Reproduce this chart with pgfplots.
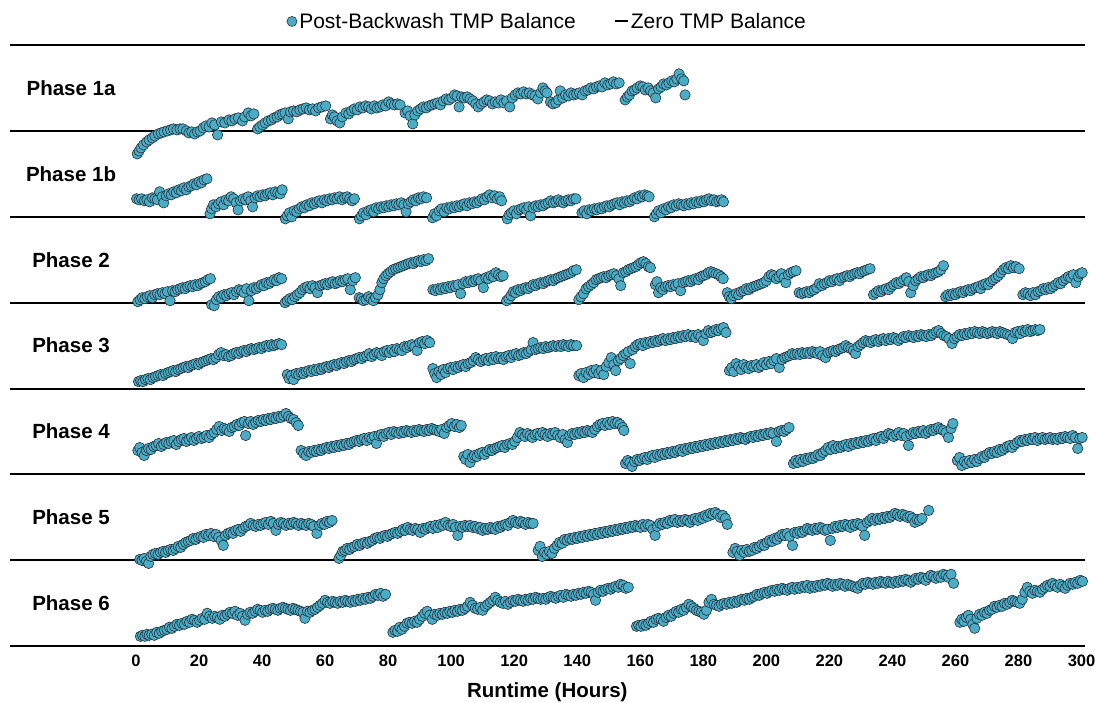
\documentclass[border=0pt]{standalone}
\usepackage{pgfplots}
\pgfplotsset{compat=1.18}
\usepackage{fontspec}
\setmainfont{Liberation Sans}

\definecolor{tmpblue}{RGB}{75,172,198}
\definecolor{tmpedge}{RGB}{35,50,60}

\pgfplotsset{
  panel/.style={scale only axis, width=1074.8pt, height=85.9pt,
    xmin=-40, xmax=301, ymin=0, ymax=85.9, clip=false, anchor=south west},
  pts/.style={only marks, mark=*, mark size=5.2pt, forget plot,
    mark options={fill=tmpblue, draw=tmpedge, line width=0.6pt}},
  zline/.style={black, line width=2pt, forget plot},
}
\newcommand{\phaselabel}[1]{\node[font=\bfseries\fontsize{20.5}{24}\selectfont] at (axis cs:-20.6,43) {#1};}

\begin{document}
\begin{tikzpicture}
\useasboundingbox (0,0) rectangle (1101pt,702pt);

% Phase 1a
\begin{axis}[panel, hide axis, at={(9.9pt,571.1pt)},
  legend columns=2,
  legend style={at={(0.5,1)}, anchor=south, yshift=11pt, draw=none, fill=none,
    font=\fontsize{21}{25}\selectfont,
    /tikz/every even column/.append style={column sep=36pt}}]
\addlegendimage{legend image code/.code={\draw[tmpedge, fill=tmpblue, line width=0.6pt] (5pt,0pt) circle (5pt);}}
\addlegendentry{Post-Backwash TMP Balance}
\addlegendimage{legend image code/.code={\draw[black, line width=2pt] (0pt,0pt) -- (13pt,0pt);}}
\addlegendentry{Zero TMP Balance}
\addplot[zline] coordinates {(-40,85.9) (301,85.9)};
\addplot[zline] coordinates {(-40,0) (301,0)};
\addplot[pts] coordinates {
(0.4,-23)(1,-20)(1.6,-17)(2.4,-14)(3.4,-11)(4.2,-9)(5.2,-7)(6,-5)(7.1,-3)(8,-2)(8.9,-1)(10,0)(11,1)(11.9,2)(13,1)(14,2)(14.9,2)(16,0)(16.8,-2)(17.7,-1)(18.6,-3)(19.5,-1)(20.4,0)(21.3,3)(22.2,5)(23.2,4)(24.1,8)(25,6)(25.9,-4)(27.1,9)(28.2,8)(29.5,11)(30.4,10)(31.4,12)(32.5,13)(33.8,10)(34.5,14)(35.6,18)(36.5,15)(37.4,17)
(38.6,2)(39.3,4)(40.2,6)(41,8)(42,10)(43,11)(43.8,13)(44.8,14)(45.6,16)(46.5,17)(47.3,18)(48.3,12)(49,19)(50,20)(51,19)(52,21)(53,22)(54,23)(55,21)(56,22)(57,20)(58,23)(59,24)(60.2,25)
(61.7,12)(62.3,16)(63,14)(63.8,10)(64.7,8)(65.5,14)(66.6,18)(67.5,17)(68.4,20)(69.3,22)(70.2,21)(71.1,24)(72,23)(72.9,25)(73.8,24)(74.7,22)(75.6,25)(76.5,23)(77.4,24)(78.3,26)(79.2,25)(80.2,29)(81,27)(82,26)(83,27)(83.8,26)
(85.4,18)(86.2,20)(87,15)(87.8,7)(88.5,16)(89.4,20)(90.3,22)(91.2,24)(92.1,23)(93,25)(93.9,26)(94.8,27)(95.7,28)(96.6,26)(97.5,30)(98.4,32)(99.3,31)(100.2,33)(101.1,36)(101.9,35)(102.5,24)(103.3,34)(104.2,33)(105.1,34)(106,32)(106.9,30)(107.8,27)(108.6,24)(109.5,27)(110.4,29)(111.3,31)(112.2,30)(113.1,27)(114,29)(114.9,28)(115.8,31)(116.7,28)(117.6,30)(118.6,24)(119.4,33)(120.3,36)(121.2,38)(122.1,37)(123,39)(123.9,37)(124.8,38)(125.7,36)(126.6,35)(127.5,32)(128.4,38)(129.1,43)(129.8,40)(130.4,38)
(131.5,29)(132.3,27)(133.2,28)(134,31)(134.6,40)(135.4,33)(136.3,36)(137.2,35)(138,38)(138.9,36)(139.8,37)(140.7,38)(141.6,36)(142.5,40)(143.4,41)(144.3,43)(145.2,42)(146.1,44)(147,45)(147.9,44)(148.8,48)(149.7,46)(150.6,47)(151.5,49)(152.4,47)(153.3,48)
(155.2,31)(155.9,34)(156.6,36)(157.4,40)(158.2,41)(159,43)(160,45)(160.8,44)(161.6,41)(162.5,43)(163.3,40)(164.1,38)(164.9,33)(165.8,42)(166.6,44)(167.4,47)(168.3,46)(169.1,48)(170,50)(170.8,49)(171.6,52)(172.3,57)(173.1,52)(173.8,50)(174.2,36)
};
\phaselabel{Phase 1a}
\end{axis}

% Phase 1b
\begin{axis}[panel, hide axis, at={(9.9pt,485.2pt)}]
\addplot[zline] coordinates {(-40,0) (301,0)};
\addplot[pts] coordinates {
(0.2,18)(1,17)(1.8,18)(2.7,16)(3.5,17)(4.3,15)(5.2,19)(6,18)(6.8,17)(7.5,25)(8.3,20)(8.8,14)(9.6,21)(10.4,23)(11.2,22)(12,25)(12.8,24)(13.6,27)(14.4,26)(15.2,29)(16,27)(16.8,30)(17.6,31)(18.4,33)(19.2,32)(20,35)(20.8,34)(21.6,37)(22.5,38)
(23.5,3)(24,8)(24.6,12)(25.4,10)(26.2,13)(27,15)(27.8,12)(28.6,17)(29.4,16)(30.2,20)(31,18)(31.8,14)(32.4,7)(33.2,16)(34,18)(34.8,17)(35.6,20)(36.4,16)(37,10)(37.8,19)(38.6,21)(39.4,20)(40.2,22)(41,21)(41.8,23)(42.6,24)(43.4,22)(44.2,25)(45,24)(45.8,23)(46.4,27)
(47.4,-2)(48,1)(48.7,4)(49.4,0)(50.2,6)(51,5)(51.8,8)(52.6,10)(53.4,9)(54.2,12)(55,11)(55.8,14)(56.6,13)(57.4,15)(58.2,16)(59,14)(59.8,17)(60.6,16)(61.4,18)(62.2,17)(63,19)(63.8,18)(64.6,20)(65.4,17)(66.2,19)(67,20)(67.8,18)(68.6,16)(69.3,18)
(70.9,-2)(71.5,1)(72.2,4)(73,2)(73.8,6)(74.6,7)(75.4,5)(76.2,9)(77,8)(77.8,10)(78.6,9)(79.4,11)(80.2,10)(81,12)(81.8,11)(82.6,13)(83.4,12)(84.2,14)(85,12)(85.7,5)(86.4,13)(87.2,15)(88,17)(88.8,16)(89.6,19)(90.4,18)(91.2,20)(92.2,19)
(94.1,-1)(94.7,3)(95.4,1)(96.2,6)(97,8)(97.8,5)(98.6,9)(99.4,8)(100.2,10)(101,9)(101.8,11)(102.6,10)(103.4,12)(104.2,13)(105,11)(105.8,14)(106.6,13)(107.4,15)(108.2,14)(109,16)(109.8,18)(110.6,17)(111.4,20)(112.2,22)(113,19)(113.8,21)(114.6,18)(115.4,20)(116,16)
(117.8,-2)(118.4,2)(119.1,4)(119.9,6)(120.7,3)(121.5,7)(122.3,8)(123.1,9)(123.9,7)(124.6,10)(125.2,1)(126,9)(126.8,11)(127.6,10)(128.4,12)(129.2,11)(130,13)(130.8,14)(131.6,16)(132.4,14)(133.2,15)(134,17)(134.8,15)(135.6,14)(136.4,16)(137.2,17)(138,16)(138.8,18)(139.6,18)
(141.5,4)(142.2,6)(143,3)(143.8,7)(144.6,6)(145.4,8)(146.2,7)(147,9)(147.8,8)(148.6,10)(149.4,11)(150.2,10)(151,12)(151.8,13)(152.6,14)(153.4,12)(154.2,15)(155,14)(155.8,16)(156.6,15)(157.4,17)(158.2,19)(159,18)(159.8,21)(160.6,20)(161.4,22)(162.2,21)(162.8,20)
(164.5,0)(165.1,3)(165.8,6)(166.6,4)(167.4,8)(168.2,7)(169,10)(169.8,9)(170.6,12)(171.4,11)(172.2,13)(173,12)(173.8,11)(174.6,13)(175.4,12)(176.2,14)(177,13)(177.8,15)(178.6,14)(179.4,16)(180.2,15)(181,17)(181.8,18)(182.6,16)(183.4,17)(184.2,15)(185,16)(185.8,17)(186.4,15)
};
\phaselabel{Phase 1b}
\end{axis}

% Phase 2
\begin{axis}[panel, hide axis, at={(9.9pt,399.3pt)}]
\addplot[zline] coordinates {(-40,0) (301,0)};
\addplot[pts] coordinates {
(0.6,1)(1.3,3)(2,5)(2.8,4)(3.6,6)(4.4,7)(5.2,5)(6,8)(6.8,9)(7.6,8)(8.4,10)(9.2,9)(10,11)(10.8,2)(11.6,12)(12.4,11)(13.2,13)(14,14)(14.8,15)(15.6,14)(16.4,16)(17.2,17)(18,16)(18.8,18)(19.6,17)(20.4,19)(21.2,20)(22,21)(22.8,23)(23.6,24)
(24,-2)(24.8,-3)(25.5,3)(26.3,6)(27.1,5)(27.9,8)(28.7,7)(29.5,9)(30.3,10)(31.1,8)(31.9,11)(32.7,13)(33.5,12)(34.3,10)(35.1,14)(35.8,2)(36.6,12)(37.4,15)(38.2,14)(39,16)(39.8,18)(40.6,17)(41.4,20)(42.2,19)(43,21)(43.8,23)(44.6,22)(45.4,25)(46.2,24)
(47.3,0)(48,2)(48.8,4)(49.6,3)(50.4,6)(51.2,8)(52,10)(52.8,13)(53.6,15)(54.4,16)(55.2,14)(56,17)(56.8,15)(57.6,10)(58.4,17)(59.2,18)(60,19)(60.8,18)(61.6,20)(62.4,21)(63.2,19)(64,20)(64.8,22)(65.6,21)(66.4,23)(67.2,24)(68,13)(68.8,22)(69.6,25)
(70.8,5)(71.5,4)(72.2,2)(73,3)(73.8,6)(74.5,4)(75.3,2)(76,5)(76.8,8)(77.4,13)(78,20)(78.6,24)(79.3,27)(80,29)(80.8,31)(81.6,33)(82.4,34)(83.2,35)(84,36)(84.8,37)(85.6,38)(86.4,39)(87.2,40)(88,39)(88.8,41)(89.6,42)(90.4,41)(91.2,43)(92,42)(92.8,44)
(94.2,13)(95,12)(95.8,14)(96.6,13)(97.4,15)(98.2,14)(99,16)(99.8,15)(100.6,17)(101.4,16)(102.2,18)(103,9)(103.8,19)(104.6,21)(105.4,20)(106.2,22)(107,21)(107.8,23)(108.6,24)(109.4,22)(110.2,15)(111,25)(111.8,24)(112.6,27)(113.4,26)(114.2,30)(115,28)(115.8,26)(116.5,27)
(117.6,2)(118.3,4)(119,7)(119.7,11)(120.4,10)(121.2,13)(122,12)(122.8,14)(123.6,15)(124.4,14)(125.2,16)(126,18)(126.8,17)(127.6,19)(128.4,20)(129.2,19)(130,21)(130.8,22)(131.6,23)(132.4,22)(133.2,24)(134,25)(134.8,26)(135.6,27)(136.4,28)(137.2,29)(138,30)(138.8,32)(139.7,33)
(140.5,3)(141.2,6)(142,9)(142.8,14)(143.6,16)(144.4,18)(145.2,20)(146,23)(146.8,24)(147.6,25)(148.4,26)(149.2,25)(150,27)(150.8,28)(151.6,29)(152.4,27)(153.2,24)(153.8,17)(154.6,30)(155.4,31)(156.2,33)(157,34)(157.8,35)(158.6,36)(159.4,38)(160.2,40)(161,41)(161.8,39)(162.6,36)(163.2,35)
(164.8,18)(165.3,21)(165.8,10)(166.5,15)(167.2,13)(168,16)(168.8,17)(169.6,16)(170.4,18)(171.2,17)(172,19)(172.8,12)(173.6,20)(174.4,21)(175.2,22)(176,21)(176.8,23)(177.6,24)(178.4,23)(179.2,26)(180,27)(180.8,28)(181.6,30)(182.4,31)(183.2,30)(184,29)(184.8,28)(185.6,26)(186.3,24)
(187.6,10)(188.2,6)(188.9,4)(189.6,7)(190.4,9)(191.2,8)(192,11)(192.8,12)(193.6,14)(194.4,13)(195.2,15)(196,16)(196.8,17)(197.6,18)(198.4,19)(199.2,20)(200,22)(200.8,26)(201.6,28)(202.4,27)(203.2,24)(204,26)(204.8,29)(205.6,25)(206.2,20)(207,28)(207.8,30)(208.6,31)(209.4,32)
(210.4,10)(211.2,9)(212,10)(212.8,11)(213.6,10)(214.4,12)(215.2,13)(216,15)(216.8,19)(217.6,17)(218.4,19)(219.2,20)(220,22)(220.8,21)(221.6,23)(222.4,24)(223.2,22)(224,25)(224.8,26)(225.6,27)(226.4,26)(227.2,28)(228,29)(228.8,30)(229.6,29)(230.4,31)(231.2,32)(232,33)(232.9,34)
(234,8)(234.8,10)(235.6,12)(236.4,11)(237.2,13)(238,14)(238.8,13)(239.6,16)(240.4,18)(241.2,20)(242,19)(242.8,21)(243.6,23)(244.4,25)(245.2,21)(245.8,10)(246.6,17)(247.4,22)(248.2,24)(249,26)(249.8,25)(250.6,27)(251.4,28)(252.2,27)(253,29)(253.8,30)(254.6,31)(255.4,33)(256.2,37)
(256.9,6)(257.6,8)(258.4,7)(259.2,9)(260,8)(260.8,10)(261.6,11)(262.4,10)(263.2,12)(264,13)(264.8,12)(265.6,14)(266.4,15)(267.2,16)(268,14)(268.8,18)(269.6,19)(270.4,18)(271.2,21)(272,23)(272.8,25)(273.6,27)(274.4,30)(275.2,33)(276,35)(276.8,34)(277.6,37)(278.4,35)(279.2,36)(280.2,34)
(281.4,8)(282.2,10)(283,9)(283.8,7)(284.6,10)(285.4,8)(286.2,11)(287,12)(287.8,14)(288.6,13)(289.4,15)(290.2,14)(291,16)(291.8,18)(292.6,20)(293.4,19)(294.2,22)(295,24)(295.8,26)(296.6,25)(297.4,28)(298.2,20)(299,26)(299.6,29)(300.2,30)
};
\phaselabel{Phase 2}
\end{axis}

% Phase 3
\begin{axis}[panel, hide axis, at={(9.9pt,313.4pt)}]
\addplot[zline] coordinates {(-40,0) (301,0)};
\addplot[pts] coordinates {
(0.8,7)(1.5,8)(2.2,7)(3,9)(3.8,10)(4.6,9)(5.4,11)(6.2,12)(7,13)(7.8,14)(8.6,13)(9.4,15)(10.2,16)(11,17)(11.8,18)(12.6,17)(13.4,19)(14.2,20)(15,21)(15.8,22)(16.6,21)(17.4,23)(18.2,24)(19,25)(19.8,24)(20.6,26)(21.4,27)(22.2,28)(23,29)(23.8,30)(24.6,29)(25.4,31)(26.2,34)(27,36)(27.8,33)(28.6,34)(29.4,32)(30.2,33)(31,35)(31.8,36)(32.6,35)(33.4,37)(34.2,38)(35,37)(35.8,39)(36.6,40)(37.4,39)(38.2,40)(39,41)(39.8,40)(40.6,42)(41.4,43)(42.2,42)(43,44)(43.8,43)(44.6,44)(45.4,45)(46.2,44)
(48,14)(48.6,10)(49.3,13)(50,9)(50.8,15)(51.6,14)(52.4,16)(53.2,15)(54,17)(54.8,18)(55.6,17)(56.4,19)(57.2,18)(58,20)(58.8,19)(59.6,21)(60.4,22)(61.2,21)(62,23)(62.8,24)(63.6,23)(64.4,25)(65.2,26)(66,25)(66.8,27)(67.6,28)(68.4,27)(69.2,29)(70,30)(70.8,31)(71.6,30)(72.4,32)(73.2,33)(74,35)(74.8,32)(75.6,34)(76.4,36)(77.2,35)(78,33)(78.8,37)(79.6,38)(80.4,36)(81.2,39)(82,37)(82.8,40)(83.6,39)(84.4,38)(85.2,42)(86,41)(86.8,43)(87.6,44)(88.4,42)(89.2,38)(90,46)(90.8,47)(91.6,45)(92.4,48)(93.2,46)
(94.2,20)(94.8,15)(95.4,11)(96.1,17)(96.8,14)(97.5,19)(98.2,16)(99,20)(99.8,21)(100.6,19)(101.4,22)(102.2,21)(103,23)(103.8,24)(104.6,22)(105.4,25)(106.2,26)(107,28)(107.8,31)(108.6,29)(109.4,27)(110.2,29)(111,30)(111.8,28)(112.6,31)(113.4,29)(114.2,32)(115,30)(115.8,31)(116.6,29)(117.4,32)(118.2,33)(119,31)(119.8,34)(120.6,35)(121.4,33)(122.2,34)(123,36)(123.8,35)(124.6,37)(125.4,39)(126,46)(126.8,39)(127.6,40)(128.4,41)(129.2,40)(130,42)(130.8,41)(131.6,42)(132.4,43)(133.2,42)(134,43)(134.8,42)(135.6,44)(136.4,43)(137.2,42)(138,44)(138.8,43)(139.8,43)
(140.5,13)(141.2,15)(142,11)(142.8,16)(143.6,14)(144.4,18)(145.2,16)(146,19)(146.8,15)(147.6,18)(148.4,14)(149.2,22)(150,26)(150.8,31)(151.6,24)(152.2,18)(153,28)(153.8,30)(154.6,33)(155.4,35)(156.2,37)(156.8,25)(157.6,39)(158.4,42)(159.2,44)(160,45)(160.8,43)(161.6,46)(162.4,45)(163.2,47)(164,46)(164.8,48)(165.6,47)(166.4,49)(167.2,50)(168,48)(168.8,50)(169.6,49)(170.4,51)(171.2,50)(172,52)(172.8,51)(173.6,53)(174.4,52)(175.2,54)(176,52)(176.8,53)(177.6,51)(178.4,54)(179.2,52)(180,48)(180.8,55)(181.6,58)(182.4,56)(183.2,57)(184,59)(184.8,58)(185.6,60)(186.4,61)(187.2,56)
(188.3,18)(189,21)(189.7,17)(190.4,25)(191.2,22)(192,19)(192.8,24)(193.6,21)(194.4,20)(195.2,23)(196,22)(196.8,24)(197.6,21)(198.4,23)(199.2,26)(200,24)(200.8,27)(201.6,25)(202.4,28)(203.2,30)(204.1,21)(205,29)(205.8,31)(206.6,32)(207.4,33)(208.2,35)(209,34)(209.8,35)(210.6,34)(211.4,36)(212.2,35)(213,36)(213.8,35)(214.6,37)(215.4,36)(216.2,35)(217,37)(217.8,33)(218.8,31)(219.6,36)(220.4,37)(221.2,38)(222,37)(222.8,39)(223.6,40)(224.4,41)(225.2,43)(226,41)(226.8,40)(227.6,38)(228.3,35)(229.1,42)(229.9,44)(230.7,46)(231.5,48)(232.3,47)(233.1,46)(233.9,48)(234.7,49)(235.5,47)(236.3,49)(237.1,50)(237.9,48)(238.7,50)(239.5,49)(240.3,51)(241.1,50)(241.9,48)(242.7,50)(243.5,52)(244.3,51)(245.1,53)(245.9,52)(246.7,51)(247.5,53)(248.3,52)(249.1,54)(249.9,53)(250.7,52)(251.5,54)(252.3,53)(253.1,55)(253.9,57)(254.7,58)(255.5,55)(256.3,53)(257.1,52)(257.9,50)(258.9,45)(259.7,50)(260.5,52)(261.3,54)(262.1,53)(262.9,55)(263.7,54)(264.5,56)(265.3,55)(266.1,57)(266.9,56)(267.7,55)(268.5,57)(269.3,56)(270.1,55)(270.9,56)(271.7,57)(272.5,56)(273.3,55)(274.1,57)(274.9,56)(275.7,55)(276.5,54)(277.3,53)(278.1,50)(278.9,56)(279.7,57)(280.5,55)(281.3,58)(282.1,57)(282.9,59)(283.7,57)(284.5,58)(285.3,59)(286.1,58)(286.8,59)
};
\phaselabel{Phase 3}
\end{axis}

% Phase 4
\begin{axis}[panel, hide axis, at={(9.9pt,227.5pt)}]
\addplot[zline] coordinates {(-40,0) (301,0)};
\addplot[pts] coordinates {
(0.6,24)(1.2,27)(1.9,22)(2.6,19)(3.3,24)(4,26)(4.8,25)(5.6,28)(6.4,29)(7.2,31)(8,28)(8.8,30)(9.6,32)(10.4,31)(11.2,33)(12,34)(12.8,30)(13.6,33)(14.4,35)(15.2,36)(16,33)(16.8,35)(17.6,37)(18.4,34)(19.2,36)(20,38)(20.8,36)(21.6,37)(22.4,39)(23.2,37)(24,40)(24.8,42)(25.6,45)(26.4,48)(27.2,44)(28,46)(28.8,45)(29.6,43)(30.4,47)(31.2,48)(32,50)(32.8,49)(33.6,52)(34.4,53)(34.8,39)(35.6,51)(36.4,53)(37.2,50)(38,52)(38.8,54)(39.6,53)(40.4,55)(41.2,54)(42,56)(42.8,55)(43.6,57)(44.4,56)(45.2,58)(46,57)(46.8,59)(47.6,61)(48.4,58)(49.2,56)(50,55)(50.8,52)(51.5,49)
(52.4,24)(53.2,21)(54,19)(54.8,23)(55.6,22)(56.4,24)(57.2,23)(58,25)(58.8,24)(59.6,26)(60.4,27)(61.2,26)(62,28)(62.8,27)(63.6,29)(64.4,28)(65.2,30)(66,29)(66.8,31)(67.6,30)(68.4,32)(69.2,33)(70,34)(70.8,33)(71.6,35)(72.4,36)(73.2,34)(74,37)(74.8,36)(75.6,38)(76.3,31)(77,39)(77.8,40)(78.6,38)(79.4,41)(80.2,42)(81,40)(81.8,43)(82.6,42)(83.4,41)(84.2,43)(85,42)(85.8,44)(86.6,43)(87.4,42)(88.2,44)(89,43)(89.8,45)(90.6,44)(91.4,43)(92.2,45)(93,44)(93.8,46)(94.6,45)(95.4,44)(96.2,43)(97,45)(97.8,41)(98.6,47)(99.4,49)(100.2,51)(101,48)(101.8,50)(102.6,47)(103.2,49)
(104,18)(104.6,15)(105.3,20)(106,12)(106.7,17)(107.4,19)(108.2,18)(109,21)(109.8,22)(110.6,20)(111.4,23)(112.2,25)(113,24)(113.8,26)(114.6,27)(115.4,28)(116.2,29)(117,27)(117.8,30)(118.6,31)(119.4,30)(120.2,33)(121,37)(121.8,42)(122.6,40)(123.4,38)(124.2,41)(125,39)(125.8,37)(126.6,40)(127.4,41)(128.2,39)(129,42)(129.8,40)(130.6,38)(131.4,41)(132.2,40)(133,42)(133.8,39)(134.6,37)(135.4,40)(136.2,35)(136.9,32)(137.6,39)(138.4,41)(139.2,40)(140,42)(140.8,41)(141.6,43)(142.4,42)(143.2,44)(144,43)(144.8,42)(145.6,45)(146.4,48)(147.2,50)(148,51)(148.8,49)(149.6,52)(150.4,50)(151.2,53)(152,51)(152.8,52)(153.6,50)(154.4,47)(154.8,44)
(155.3,11)(156,14)(156.7,12)(157.4,8)(158.2,13)(159,15)(159.8,14)(160.6,16)(161.4,17)(162.2,15)(163,18)(163.8,19)(164.6,17)(165.4,20)(166.2,19)(167,21)(167.8,20)(168.6,22)(169.4,21)(170.2,23)(171,22)(171.8,24)(172.6,25)(173.4,23)(174.2,26)(175,25)(175.8,27)(176.6,26)(177.4,28)(178.2,27)(179,29)(179.8,28)(180.6,30)(181.4,29)(182.2,31)(183,30)(183.8,32)(184.6,31)(185.4,33)(186.2,32)(187,34)(187.8,33)(188.6,35)(189.4,34)(190.2,36)(191,35)(191.8,37)(192.6,36)(193.4,35)(194.2,37)(195,38)(195.8,37)(196.6,39)(197.4,38)(198.2,40)(199,39)(199.8,41)(200.6,40)(201.4,42)(202.2,41)(203.2,33)(204,43)(204.8,44)(205.6,43)(206.4,45)(207.2,47)
(208.6,11)(209.3,14)(210,12)(210.8,15)(211.6,13)(212.4,16)(213.2,15)(214,17)(214.8,16)(215.6,18)(216.4,20)(217.2,19)(218,22)(218.8,24)(219.6,27)(220.4,25)(221.2,29)(222,26)(222.8,28)(223.6,27)(224.4,29)(225.2,30)(226,28)(226.8,31)(227.6,30)(228.4,32)(229.2,31)(230,33)(230.8,32)(231.6,34)(232.4,33)(233.2,35)(234,36)(234.8,34)(235.6,37)(236.4,38)(237.2,36)(238,39)(238.8,41)(239.6,40)(240.4,38)(241.2,40)(242,42)(242.8,39)(243.6,41)(244.4,38)(245.1,29)(245.8,40)(246.6,42)(247.4,41)(248.2,43)(249,42)(249.8,44)(250.6,41)(251.4,43)(252.2,45)(253,44)(253.8,46)(254.6,47)(255.4,45)(256.2,44)(257,42)(257.8,37)(258.6,46)(259.2,51)
(260.6,14)(261.3,17)(262,9)(262.8,13)(263.6,11)(264.4,14)(265.2,12)(266,15)(266.8,13)(267.6,16)(268.4,18)(269.2,17)(270,20)(270.8,22)(271.6,21)(272.4,23)(273.2,22)(274,25)(274.8,24)(275.6,26)(276.4,28)(277.2,29)(278,27)(278.8,30)(279.6,32)(280.4,34)(281.2,33)(282,35)(282.8,34)(283.6,36)(284.4,35)(285.2,37)(286,34)(286.8,36)(287.6,37)(288.4,35)(289.2,36)(290,37)(290.8,35)(291.6,36)(292.4,35)(293.2,37)(294,36)(294.8,38)(295.6,37)(296.4,36)(297.2,39)(298,37)(298.8,26)(299.4,36)(300.2,37)
};
\phaselabel{Phase 4}
\end{axis}

% Phase 5
\begin{axis}[panel, hide axis, at={(9.9pt,141.6pt)}]
\addplot[zline] coordinates {(-40,0) (301,0)};
\addplot[pts] coordinates {
(1.2,1)(1.9,0)(2.6,2)(3.3,-1)(4,-3)(4.7,4)(5.4,6)(6.2,7)(7,6)(7.8,8)(8.6,9)(9.4,8)(10.2,10)(11,11)(11.8,10)(12.6,12)(13.4,14)(14.2,13)(15,16)(15.8,18)(16.6,19)(17.4,20)(18.2,22)(19,21)(19.8,23)(20.6,24)(21.4,23)(22.2,26)(23,25)(23.8,27)(24.6,24)(25.4,26)(26.2,23)(27,20)(27.7,15)(28.4,25)(29.2,27)(30,28)(30.8,27)(31.6,30)(32.4,31)(33.2,29)(34,32)(34.8,34)(35.6,35)(36.4,37)(37.2,35)(38,34)(38.8,36)(39.6,35)(40.4,37)(41.2,38)(42,36)(42.8,39)(43.6,37)(44.4,30)(45.2,36)(46,38)(46.8,37)(47.6,35)(48.4,37)(49.2,36)(50,38)(50.8,37)(51.6,35)(52.4,37)(53.2,36)(54,35)(54.8,37)(55.6,36)(56.4,34)(57.4,27)(58.2,35)(59,37)(59.8,36)(60.6,39)(61.4,38)(62.2,40)
(64.4,2)(65,5)(65.6,9)(66.3,10)(67,12)(67.8,11)(68.6,13)(69.4,14)(70.2,16)(71,15)(71.8,17)(72.6,18)(73.4,17)(74.2,19)(75,20)(75.8,22)(76.6,23)(77.4,22)(78.2,24)(79,25)(79.8,24)(80.6,26)(81.4,27)(82.2,28)(83,27)(83.8,29)(84.6,31)(85.4,30)(86.2,33)(87,31)(87.8,30)(88.6,32)(89.4,31)(90.2,28)(91,32)(91.8,31)(92.6,33)(93.4,34)(94.2,32)(95,35)(95.8,33)(96.6,36)(97.4,35)(98.2,38)(99,35)(99.8,34)(100.6,36)(101.4,33)(102.1,25)(102.8,34)(103.6,33)(104.4,35)(105.2,34)(106,35)(106.8,33)(107.6,34)(108.4,32)(109.2,33)(110,30)(110.8,32)(111.6,31)(112.4,33)(113.2,32)(114,31)(114.8,34)(115.6,33)(116.4,35)(117.2,36)(118,35)(118.8,38)(119.6,40)(120.4,38)(121.2,37)(122,39)(122.8,38)(123.6,36)(124.4,38)(125.2,37)(126,37)
(127.6,10)(128.2,14)(128.9,4)(129.6,8)(130.4,6)(131.2,9)(132,7)(132.8,12)(133.6,15)(134.4,18)(135.2,17)(136,21)(136.8,20)(137.6,22)(138.4,21)(139.2,23)(140,22)(140.8,24)(141.6,23)(142.4,25)(143.2,24)(144,26)(144.8,25)(145.6,27)(146.4,26)(147.2,28)(148,27)(148.8,29)(149.6,28)(150.4,30)(151.2,29)(152,31)(152.8,30)(153.6,32)(154.4,31)(155.2,33)(156,32)(156.8,34)(157.6,33)(158.4,35)(159.2,34)(160,33)(160.8,36)(161.6,34)(162.4,36)(163.2,35)(164,31)(164.7,25)(165.4,34)(166.2,37)(167,36)(167.8,38)(168.6,37)(169.4,40)(170.2,39)(171,41)(171.8,38)(172.6,40)(173.4,39)(174.2,41)(175,40)(175.8,38)(176.6,41)(177.4,42)(178.2,40)(179,43)(179.8,42)(180.6,45)(181.4,44)(182.2,47)(183,46)(183.8,48)(184.6,46)(185.4,43)(186.2,45)(187,42)(187.6,36)
(189.4,8)(190.1,12)(190.8,9)(191.5,5)(192.2,10)(193,8)(193.8,11)(194.6,9)(195.4,10)(196.2,13)(197,12)(197.8,14)(198.6,16)(199.4,15)(200.2,18)(201,20)(201.8,19)(202.6,22)(203.4,21)(204.2,24)(205,26)(205.8,25)(206.6,27)(207.4,24)(208.3,15)(209,28)(209.8,27)(210.6,29)(211.4,28)(212.2,30)(213,32)(213.8,31)(214.6,30)(215.4,32)(216.2,31)(217,33)(217.8,32)(218.6,30)(219.4,31)(220.3,20)(221,32)(221.8,34)(222.6,33)(223.4,35)(224.2,34)(225,36)(225.8,35)(226.6,33)(227.4,36)(228.2,35)(229,37)(229.8,36)(230.6,34)(231.2,25)(232,38)(232.8,40)(233.6,42)(234.4,40)(235.2,42)(236,41)(236.8,43)(237.6,42)(238.4,44)(239.2,43)(240,45)(240.8,47)(241.6,46)(242.4,44)(243.2,46)(244,45)(244.8,43)(245.6,44)(246.4,42)(247.1,38)(247.8,41)(248.6,40)(249.4,42)(251.5,50)
};
\phaselabel{Phase 5}
\end{axis}

% Phase 6
\begin{axis}[panel, at={(9.9pt,55.7pt)},
  axis x line=bottom, axis y line=none, x axis line style={draw=none},
  xtick={0,20,...,300}, major tick length=0pt, ytick=\empty,
  /pgf/number format/assume math mode=true,
  xticklabel style={font=\bfseries\fontsize{16.5}{19}\selectfont, yshift=-5pt},
  xlabel={Runtime (Hours)},
  xlabel style={font=\bfseries\fontsize{20.5}{24}\selectfont, yshift=-9pt}]
\addplot[zline] coordinates {(-40,0) (301,0)};
\addplot[pts] coordinates {
(1.4,10)(2.1,11)(2.8,10)(3.5,12)(4.2,11)(5,12)(5.8,11)(6.6,14)(7.4,13)(8.2,15)(9,16)(9.8,17)(10.6,19)(11.4,18)(12.2,20)(13,22)(13.8,21)(14.6,23)(15.4,22)(16.2,25)(17,24)(17.8,27)(18.6,26)(19.4,24)(20.2,26)(21,28)(21.8,27)(22.6,33)(23.4,30)(24.2,28)(25,30)(25.8,29)(26.6,27)(27.4,31)(28.2,30)(29,32)(29.8,34)(30.6,33)(31.4,35)(32.2,31)(33,33)(33.8,30)(34.6,26)(35.4,32)(36.2,34)(37,33)(37.8,35)(38.6,37)(39.4,36)(40.2,34)(41,36)(41.8,35)(42.6,37)(43.4,38)(44.2,37)(45,36)(45.8,38)(46.6,39)(47.4,38)(48.2,37)(49,36)(49.8,38)(50.6,37)(51.4,36)(52.2,35)(53,34)(53.6,28)(54.4,35)(55.2,34)(56,36)(56.8,37)(57.6,39)(58.4,41)(59.2,43)(60,46)(60.8,44)(61.6,43)(62.4,45)(63.2,44)(64,43)(64.8,45)(65.6,44)(66.4,46)(67.2,45)(68,44)(68.8,46)(69.6,45)(70.4,47)(71.2,46)(72,48)(72.8,47)(73.6,49)(74.4,48)(75.2,50)(76,52)(76.8,51)(77.6,53)(78.4,50)(79.2,52)
(81.5,14)(82.2,16)(83,15)(83.7,19)(84.4,17)(85.2,20)(86,23)(86.8,24)(87.6,23)(88.4,25)(89.2,24)(90,27)(90.8,30)(91.6,33)(92.4,35)(93.2,31)(94,27)(94.8,32)(95.6,31)(96.4,33)(97.2,32)(98,34)(98.8,33)(99.6,35)(100.4,34)(101.2,36)(102,35)(102.8,37)(103.6,36)(104.4,38)(105.2,40)(106,44)(106.8,41)(107.6,38)(108.4,37)(109.2,39)(110,36)(110.8,40)(111.6,42)(112.4,44)(113.2,46)(114,49)(114.8,46)(115.6,44)(116.4,43)(117.2,45)(118,42)(118.8,44)(119.6,46)(120.4,45)(121.2,47)(122,46)(122.8,45)(123.6,47)(124.4,46)(125.2,48)(126,47)(126.8,49)(127.6,48)(128.4,47)(129.2,48)(130,47)(130.8,49)(131.6,50)(132.4,49)(133.2,48)(134,50)(134.8,51)(135.6,49)(136.4,52)(137.2,51)(138,50)(138.8,52)(139.6,51)(140.4,53)(141.2,52)(142,54)(142.8,53)(143.6,55)(144.4,54)(145.2,52)(145.8,46)(146.6,54)(147.4,56)(148.2,55)(149,57)(149.8,58)(150.6,57)(151.4,59)(152.2,60)(153,59)(153.8,62)(154.6,61)(155.4,58)(156.2,59)
(158.8,20)(159.5,21)(160.2,20)(161,22)(161.8,21)(162.6,23)(163.4,25)(164.2,24)(165,27)(165.8,28)(166.6,27)(167.4,25)(168.2,29)(169,31)(169.8,30)(170.6,33)(171.4,35)(172.2,34)(173,37)(173.8,36)(174.6,39)(175.4,42)(176.2,40)(177,38)(177.8,36)(178.6,35)(179.4,34)(180.2,32)(181,36)(181.8,44)(182.6,47)(183.4,42)(184.2,41)(185,40)(185.8,42)(186.6,43)(187.4,42)(188.2,44)(189,43)(189.8,45)(190.6,44)(191.4,46)(192.2,47)(193,46)(193.8,48)(194.6,47)(195.4,49)(196.2,50)(197,52)(197.8,51)(198.6,53)(199.4,54)(200.2,53)(201,55)(201.8,56)(202.6,55)(203.4,57)(204.2,56)(205,58)(205.8,57)(206.6,56)(207.4,58)(208.2,59)(209,57)(209.8,59)(210.6,58)(211.4,60)(212.2,59)(213,61)(213.8,58)(214.6,60)(215.4,59)(216.2,61)(217,60)(217.8,62)(218.6,61)(219.4,63)(220.2,62)(221,60)(221.8,62)(222.6,61)(223.4,63)(224.2,62)(225,60)(225.8,62)(226.6,61)(227.4,60)(228.2,59)(229,58)(229.8,61)(230.6,63)(231.4,62)(232.2,64)(233,63)(233.8,62)(234.6,64)(235.4,63)(236.2,65)(237,64)(237.8,63)(238.6,65)(239.4,64)(240.2,63)(241,65)(241.8,64)(242.6,66)(243.4,65)(244.2,67)(245,66)(245.8,64)(246.6,66)(247.4,68)(248.2,67)(249,69)(249.8,68)(250.6,66)(251.4,69)(252.2,71)(253,70)(253.8,68)(254.6,70)(255.4,69)(256.2,72)(257,71)(257.8,69)(258.6,72)(259.4,63)
(261.4,24)(262,27)(262.7,25)(263.4,29)(264.1,31)(264.8,27)(265.5,22)(266.1,18)(266.8,28)(267.6,32)(268.4,31)(269.2,34)(270,33)(270.8,36)(271.6,37)(272.4,40)(273.2,39)(274,41)(274.8,40)(275.6,43)(276.4,42)(277.2,44)(278,46)(278.8,45)(279.6,44)(280.4,43)(281.2,47)(282,54)(282.8,59)(283.6,55)(284.4,53)(285.2,56)(286,55)(286.8,54)(287.6,57)(288.4,59)(289.2,61)(290,60)(290.8,63)(291.6,61)(292.4,59)(293.2,62)(294,60)(294.8,58)(295.6,61)(296.4,63)(297.2,62)(298,64)(298.8,63)(299.6,66)(300.3,65)
};
\phaselabel{Phase 6}
\end{axis}
\end{tikzpicture}
\end{document}
